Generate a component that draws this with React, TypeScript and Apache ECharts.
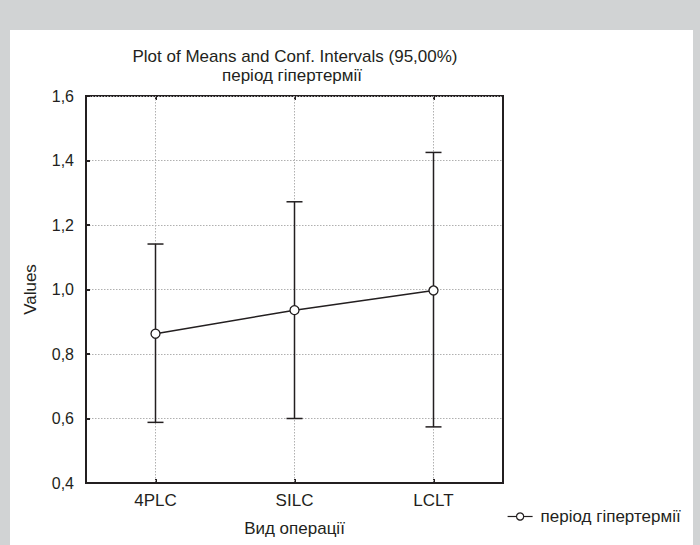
import React, { useEffect, useRef } from "react";
import * as echarts from "echarts";

const categories = ["4PLC", "SILC", "LCLT"];
const means = [0.863, 0.936, 0.997];
const lowerCI = [0.588, 0.6, 0.574];
const upperCI = [1.141, 1.272, 1.425];
const titleLines = ["Plot of Means and Conf. Intervals (95,00%)", "період гіпертермії"];
const seriesName = "період гіпертермії";
const xName = "Вид операції";
const yName = "Values";

const DARK = "#231f20";
const FONT = "'Liberation Sans', Arial, sans-serif";

export default function App() {
  const ref = useRef<HTMLDivElement>(null);
  useEffect(() => {
    if (!ref.current) return;
    const chart = echarts.init(ref.current, undefined, { renderer: "svg" });
    const yMin = 0.4;
    const yMax = 1.6;
    const option: any = {
      animation: false,
      backgroundColor: "#d1d3d4",
      textStyle: { fontFamily: FONT },
      graphic: [
        { type: "rect", z: -100, shape: { x: 10, y: 30, width: 683, height: 520 }, style: { fill: "#ffffff" } },
        { type: "text", x: 295, y: 56, style: { text: titleLines[0], fill: DARK, font: `17px ${FONT}`, textAlign: "center", textVerticalAlign: "middle" } },
        { type: "text", x: 292, y: 75, style: { text: titleLines[1], fill: DARK, font: `17px ${FONT}`, textAlign: "center", textVerticalAlign: "middle" } },
      ],
      grid: { left: 86, right: 197, top: 96, bottom: 62, show: true, borderColor: DARK, borderWidth: 2, backgroundColor: "transparent" },
      legend: {
        data: [seriesName],
        left: 502,
        top: 503,
        itemWidth: 25,
        itemHeight: 9,
        lineStyle: { width: 1.2 },
        itemStyle: { borderWidth: 1.2 },
        textStyle: { fontSize: 17, color: DARK, fontFamily: FONT, padding: [0, 0, 0, 3] },
      },
      xAxis: [
        {
          type: "category",
          data: categories,
          boundaryGap: true,
          axisLine: { show: true, lineStyle: { color: DARK, width: 2 } },
          axisTick: { show: true, inside: true, alignWithLabel: true, length: 4, lineStyle: { color: DARK, width: 2 } },
          axisLabel: { fontSize: 17, color: DARK, margin: 9, fontFamily: FONT },
          splitLine: { show: false },
          name: xName,
          nameLocation: "middle",
          nameGap: 37,
          nameTextStyle: { fontSize: 17, color: DARK, fontFamily: FONT },
        },
        {
          type: "category",
          data: categories,
          position: "top",
          boundaryGap: true,
          axisLine: { show: false },
          axisTick: { show: true, inside: true, alignWithLabel: true, length: 4, lineStyle: { color: DARK, width: 2 } },
          axisLabel: { show: false },
          splitLine: { show: false },
        },
      ],
      yAxis: {
        type: "value",
        min: yMin,
        max: yMax,
        interval: 0.2,
        axisLine: { show: true, lineStyle: { color: DARK, width: 2 } },
        axisTick: { show: true, inside: true, length: 4, lineStyle: { color: DARK, width: 2 } },
        axisLabel: {
          fontSize: 16,
          color: DARK,
          margin: 12,
          fontFamily: FONT,
          formatter: (v: number) => v.toFixed(1).replace(".", ","),
        },
        splitLine: { show: true, lineStyle: { color: "#b0b0b0", type: [1.5, 1.5], width: 1 } },
        name: yName,
        nameLocation: "middle",
        nameGap: 47,
        nameRotate: 90,
        nameTextStyle: { fontSize: 17, color: DARK, fontFamily: FONT },
      },
      series: [
        {
          type: "custom",
          name: "ci",
          z: 1,
          silent: true,
          encode: { x: 0, y: [1, 2] },
          data: categories.map((c, i) => [i, lowerCI[i], upperCI[i]]),
          renderItem: (params: any, api: any) => {
            const idx = api.value(0);
            const lo = api.coord([idx, api.value(1)]);
            const hi = api.coord([idx, api.value(2)]);
            const top = api.coord([idx, yMax]);
            const bot = api.coord([idx, yMin]);
            const cap = 8;
            return {
              type: "group",
              children: [
                { type: "line", shape: { x1: top[0], y1: top[1], x2: bot[0], y2: bot[1] }, style: { stroke: "#b0b0b0", lineWidth: 1, lineDash: [1.5, 1.5] } },
                { type: "line", shape: { x1: lo[0], y1: lo[1], x2: hi[0], y2: hi[1] }, style: { stroke: DARK, lineWidth: 1.5 } },
                { type: "line", shape: { x1: lo[0] - cap, y1: lo[1], x2: lo[0] + cap, y2: lo[1] }, style: { stroke: DARK, lineWidth: 1.5 } },
                { type: "line", shape: { x1: hi[0] - cap, y1: hi[1], x2: hi[0] + cap, y2: hi[1] }, style: { stroke: DARK, lineWidth: 1.5 } },
              ],
            };
          },
        },
        {
          type: "line",
          name: seriesName,
          z: 3,
          data: means,
          symbol: "circle",
          symbolSize: 9,
          showAllSymbol: true,
          lineStyle: { color: DARK, width: 1.5 },
          itemStyle: { color: "#ffffff", borderColor: DARK, borderWidth: 1.3 },
        },
      ],
    };
    chart.setOption(option);
    return () => chart.dispose();
  }, []);
  return <div ref={ref} style={{ position: "absolute", left: 0, top: 0, width: 700, height: 545 }} />;
}
